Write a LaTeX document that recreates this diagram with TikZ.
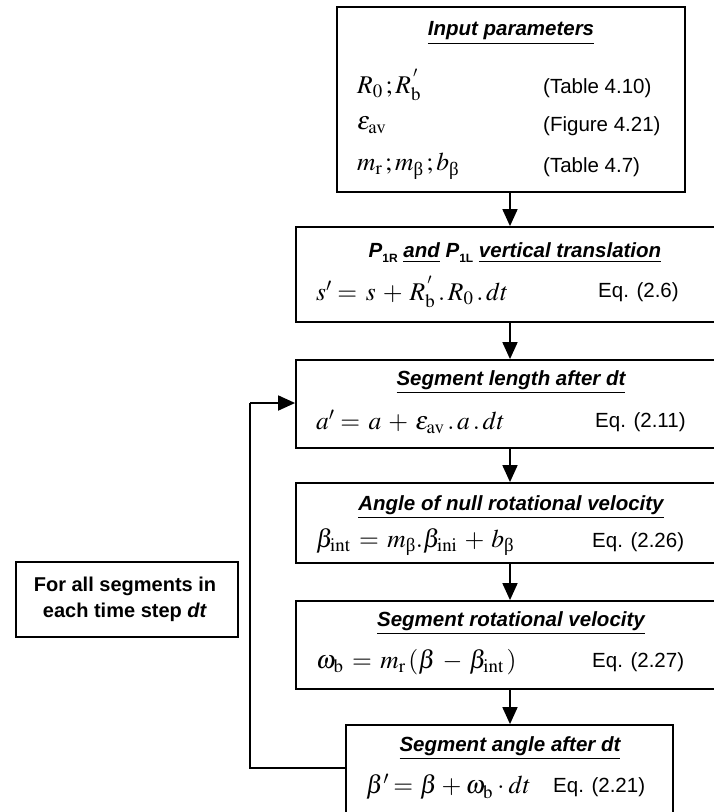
\documentclass[tikz,border=0pt]{standalone}
\usepackage{mathptmx}
\usepackage{amsmath}
\usepackage[no-math]{fontspec}
\setmainfont{Liberation Sans}
\newfontfamily\greekserif{Liberation Serif}
\usetikzlibrary{arrows.meta}

\newcommand{\ubeta}{\text{\greekserif β}}
\newcommand{\ttlsub}[1]{\raisebox{-0.25em}{\fontsize{12}{12}\selectfont\bfseries\upshape #1}}
% slightly roomier operator spacing for the formulas
\thickmuskip=6mu
\medmuskip=5mu

\tikzset{
  box/.style={draw, line width=1.8pt, rectangle, inner sep=0pt},
  ttl/.style={font=\fontsize{20.5}{24}\selectfont\bfseries\itshape, inner sep=0pt},
  eqn/.style={font=\fontsize{25.5}{30}\selectfont, anchor=west, inner sep=0pt},
  ref/.style={font=\fontsize{20.5}{24}\selectfont, anchor=west, inner sep=0pt},
  note/.style={font=\fontsize{20}{26}\selectfont\bfseries, align=center, inner sep=0pt},
  arr/.style={line width=1.8pt, -{Triangle[length=17pt,width=15pt]}},
  link/.style={line width=1.8pt}
}

\begin{document}
\begin{tikzpicture}[x=1pt, y=-1pt]
\useasboundingbox (0,0) rectangle (714,812);
\clip (0,0) rectangle (714,812);

% spine of the main flow
\coordinate (spine) at (510,0);

% input parameters
\node[box, minimum width=348pt, minimum height=185pt] (b1) at (511,99.5) {};
\node[ttl] (t1) at (511,33) {\underline{Input parameters}};
\node[eqn] (e1a) at (357,85) {$R_0\,;R_{\mathrm{b}}^{\,'}$};
\node[eqn] (e1b) at (357,125) {$\varepsilon_{\mathrm{av}}$};
\node[eqn] (e1c) at (357,166) {$m_{\mathrm{r}}\,;m_{\ubeta}\,;b_{\ubeta}$};
\node[ref] (r1a) at (543,88) {(Table 4.10)};
\node[ref] (r1b) at (543,126) {(Figure 4.21)};
\node[ref] (r1c) at (543,167) {(Table 4.7)};

% vertical translation
\node[box, minimum width=434pt, minimum height=95pt] (b2) at (513,274.5) {};
\node[ttl] (t2) at (515,253) {P\ttlsub{1R} \underline{and} P\ttlsub{1L} \underline{vertical translation}};
\node[eqn] (e2) at (316,292) {$s'\! = s + R_{\mathrm{b}}^{\,'}\,.\,R_0\,.\,dt$};
\node[ref] (r2) at (598,292) {Eq. (2.6)};

% segment length
\node[box, minimum width=434pt, minimum height=88pt] (b3) at (513,404) {};
\node[ttl] (t3) at (511,382) {\underline{Segment length after dt}};
\node[eqn] (e3) at (316,422) {$a'\! = a + \varepsilon_{\mathrm{av}}\,.\,a\,.\,dt$};
\node[ref] (r3) at (595,422) {Eq. (2.11)};

% angle of null rotational velocity
\node[box, minimum width=434pt, minimum height=80pt] (b4) at (513,523) {};
\node[ttl] (t4) at (511,507) {\underline{Angle of null rotational velocity}};
\node[eqn] (e4) at (316,542) {$\beta_{\mathrm{int}} = m_{\ubeta}.\beta_{\mathrm{ini}} + b_{\ubeta}$};
\node[ref] (r4) at (592,542) {Eq. (2.26)};

% rotational velocity
\node[box, minimum width=434pt, minimum height=88pt] (b5) at (513,645) {};
\node[ttl] (t5) at (511,623) {\underline{Segment rotational velocity}};
\node[eqn] (e5) at (316,662) {$\omega_{\mathrm{b}} = m_{\mathrm{r}}\left(\beta - \beta_{\mathrm{int}}\,\right)$};
\node[ref] (r5) at (592,662) {Eq. (2.27)};

% segment angle
\node[box, minimum width=327pt, minimum height=105pt] (b6) at (509.5,777.5) {};
\node[ttl] (t6) at (510,748) {\underline{Segment angle after dt}};
\node[eqn] (e6) at (366,787) {\medmuskip=3mu\thickmuskip=5mu$\beta'\! = \beta + \omega_{\mathrm{b}}\cdot dt$};
\node[ref] (r6) at (553,787) {Eq. (2.21)};

% loop note
\node[box, minimum width=222pt, minimum height=75pt] (b7) at (127,599.5) {};
\node[note] (t7) at (125,599.5) {For all segments in\\each time step \textit{dt}};

% flow arrows
\draw[arr] (b1.south -| spine) -- (b2.north -| spine);
\draw[arr] (b2.south -| spine) -- (b3.north -| spine);
\draw[arr] (b3.south -| spine) -- (b4.north -| spine);
\draw[arr] (b4.south -| spine) -- (b5.north -| spine);
\draw[arr] (b5.south -| spine) -- (b6.north -| spine);

% feedback loop
\coordinate (loopx) at (250,0);
\coordinate (loopin) at (250,403);
\draw[link] (b6.west |- 0,768) -- (loopx |- 0,768) -- (loopin);
\draw[arr] (loopin) -- (b3.west |- loopin);
\end{tikzpicture}
\end{document}
